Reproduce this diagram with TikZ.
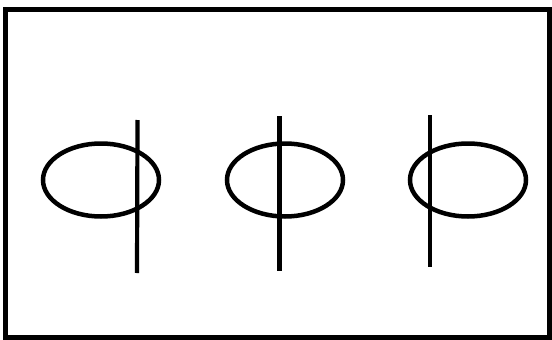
\documentclass[tikz,border=0pt]{standalone}
\usepackage{tikz}
\usetikzlibrary{shapes.geometric,positioning}

\begin{document}
\begin{tikzpicture}[
    x=1pt, y=-1pt,
    frame/.style={draw, line width=5pt},
    ring/.style={draw, ellipse, line width=4.5pt, minimum width=116pt, minimum height=73pt, inner sep=0pt},
    bar/.style={line width=4.2pt},
]
    \useasboundingbox (0,0) rectangle (552,340);

    % Frame
    \draw [frame] (5.5,9.5) rectangle (549,337);

    % Ellipses
    \node [ring] (e_left) at (101,180) {};
    \node [ring] (e_mid) at (285,180) {};
    \node [ring] (e_right) at (468,180) {};

    % Bar ends
    \coordinate (b_left_top) at (137.5,120);
    \coordinate (b_left_bot) at (137,273);
    \coordinate (b_mid_top) at (279.5,116);
    \coordinate (b_mid_bot) at (279.5,271);
    \coordinate (b_right_top) at (430,115);
    \coordinate (b_right_bot) at (430,267);

    % Bars
    \draw [bar] (b_left_top) -- (b_left_bot);
    \draw [bar] (b_mid_top) -- (b_mid_bot);
    \draw [bar] (b_right_top) -- (b_right_bot);

\end{tikzpicture}
\end{document}
